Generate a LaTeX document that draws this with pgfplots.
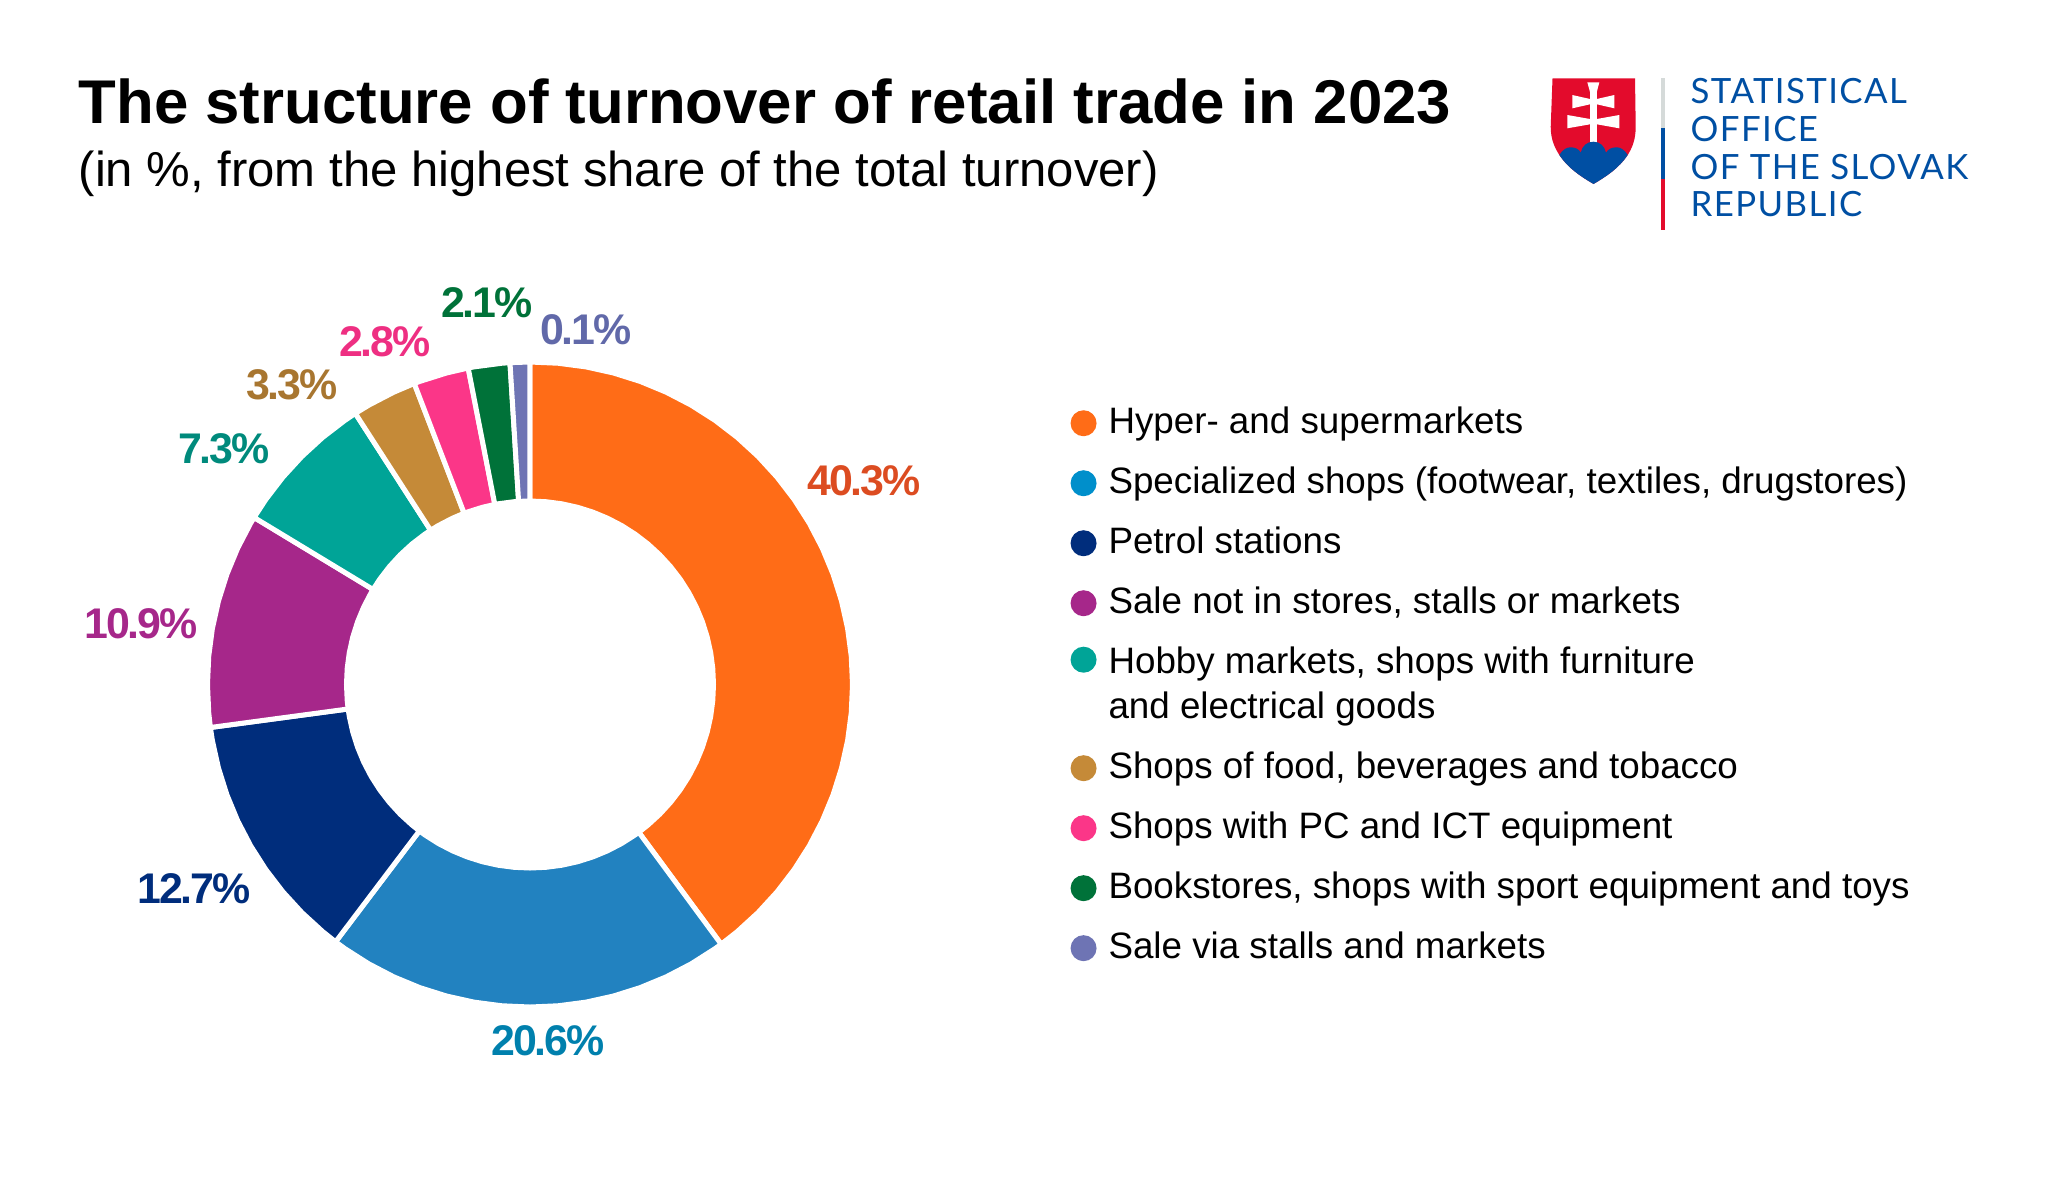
\documentclass[border=0pt]{standalone}
\usepackage{fontspec}
\setmainfont{Liberation Sans}
\newfontfamily\lab[LetterSpace=-4.5]{Liberation Sans}
\newfontfamily\logo[LetterSpace=4]{Lato}
\usepackage{pgfplots}
\pgfplotsset{compat=1.18}
\usepgfplotslibrary{polar}
% two-line legend entry: the marker goes up to its first line
\pgfplotsset{raised marker/.style={legend image code/.code={\fill[##1,draw=none] (0.13cm,0.27cm) circle (0.13cm);}}}

% wedge colours
\definecolor{cOrange}{HTML}{FF6C17}
\definecolor{cBlue}{HTML}{2282C0}
\definecolor{cNavy}{HTML}{002D7C}
\definecolor{cPurple}{HTML}{A6278A}
\definecolor{cTeal}{HTML}{00A497}
\definecolor{cBrown}{HTML}{C58A38}
\definecolor{cPink}{HTML}{FB3688}
\definecolor{cGreen}{HTML}{007239}
\definecolor{cLav}{HTML}{6E74B4}
\definecolor{mBlue}{HTML}{008FCB}
% label colours
\definecolor{tOrange}{HTML}{DC4C21}
\definecolor{tBlue}{HTML}{0080AD}
\definecolor{tTeal}{HTML}{008A7C}
\definecolor{tBrown}{HTML}{A87630}
\definecolor{tPink}{HTML}{EE2F82}
\definecolor{tLav}{HTML}{6169A9}
% logo colours
\definecolor{lRed}{HTML}{E30B2C}
\definecolor{lBlue}{HTML}{004FA3}
\definecolor{lGray}{HTML}{D5DAD9}

\newcommand{\val}[4]{\node[text=#3,font={\lab\bfseries\fontsize{12.2pt}{14pt}\selectfont},inner sep=0pt] at (#1,#2) {#4};}

\begin{document}
\begin{tikzpicture}[x=0.1mm,y=-0.1mm]
\path[use as bounding box] (0,0) rectangle (2048,1179);

\begin{polaraxis}[
    at={(5.30cm,-6.845cm)}, anchor=center,
    scale only axis, width=6.45cm, height=6.45cm,
    xmin=0, xmax=360, ymin=0, ymax=322.5,
    hide axis, clip=false,
    legend style={at={(axis description cs:1.337,0.9395)}, anchor=north west, draw=none, fill=none,
        font=\fontsize{10.46pt}{12.8pt}\selectfont, row sep=4.27pt, inner sep=0pt,
        nodes={inner sep=0pt, text depth={}},
        cells={anchor=base west},
        /tikz/every odd column/.append style={column sep=3.4pt}},
    legend cell align=left,
    legend image code/.code={\fill[#1,draw=none] (0.13cm,0.01cm) circle (0.13cm);},
]
% shares 40.3 20.6 12.7 10.9 7.3 3.3 2.8 2.1 and a drawn slice of 1.0, angles in degrees
\addplot[fill=cOrange, draw=white, line width=0.5mm] coordinates {
 (90,322.5)(85,322.5)(80,322.5)(75,322.5)(70,322.5)(65,322.5)(60,322.5)(55,322.5)(50,322.5)(45,322.5)
 (40,322.5)(35,322.5)(30,322.5)(25,322.5)(20,322.5)(15,322.5)(10,322.5)(5,322.5)(0,322.5)(-5,322.5)
 (-10,322.5)(-15,322.5)(-20,322.5)(-25,322.5)(-30,322.5)(-35,322.5)(-40,322.5)(-45,322.5)(-50,322.5)(-53.64,322.5)
 (-53.64,183.5)(-50,183.5)(-45,183.5)(-40,183.5)(-35,183.5)(-30,183.5)(-25,183.5)(-20,183.5)(-15,183.5)(-10,183.5)
 (-5,183.5)(0,183.5)(5,183.5)(10,183.5)(15,183.5)(20,183.5)(25,183.5)(30,183.5)(35,183.5)(40,183.5)
 (45,183.5)(50,183.5)(55,183.5)(60,183.5)(65,183.5)(70,183.5)(75,183.5)(80,183.5)(85,183.5)(90,183.5)
} -- cycle;
\addlegendentry{\strut Hyper- and supermarkets}

\addplot[fill=cBlue, draw=white, line width=0.5mm, legend image post style={fill=mBlue}] coordinates {
 (-53.64,322.5)(-55,322.5)(-60,322.5)(-65,322.5)(-70,322.5)(-75,322.5)(-80,322.5)(-85,322.5)(-90,322.5)
 (-95,322.5)(-100,322.5)(-105,322.5)(-110,322.5)(-115,322.5)(-120,322.5)(-125,322.5)(-127.07,322.5)
 (-127.07,183.5)(-125,183.5)(-120,183.5)(-115,183.5)(-110,183.5)(-105,183.5)(-100,183.5)(-95,183.5)
 (-90,183.5)(-85,183.5)(-80,183.5)(-75,183.5)(-70,183.5)(-65,183.5)(-60,183.5)(-55,183.5)(-53.64,183.5)
} -- cycle;
\addlegendentry{\strut Specialized shops (footwear, textiles, drugstores)}

\addplot[fill=cNavy, draw=white, line width=0.5mm] coordinates {
 (-127.07,322.5)(-130,322.5)(-135,322.5)(-140,322.5)(-145,322.5)(-150,322.5)(-155,322.5)(-160,322.5)(-165,322.5)(-170,322.5)(-172.34,322.5)
 (-172.34,183.5)(-170,183.5)(-165,183.5)(-160,183.5)(-155,183.5)(-150,183.5)(-145,183.5)(-140,183.5)(-135,183.5)(-130,183.5)(-127.07,183.5)
} -- cycle;
\addlegendentry{\strut Petrol stations}

\addplot[fill=cPurple, draw=white, line width=0.5mm] coordinates {
 (-172.34,322.5)(-175,322.5)(-180,322.5)(-185,322.5)(-190,322.5)(-195,322.5)(-200,322.5)(-205,322.5)(-210,322.5)(-211.19,322.5)
 (-211.19,183.5)(-210,183.5)(-205,183.5)(-200,183.5)(-195,183.5)(-190,183.5)(-185,183.5)(-180,183.5)(-175,183.5)(-172.34,183.5)
} -- cycle;
\addlegendentry{\strut Sale not in stores, stalls or markets}

\addplot[fill=cTeal, draw=white, line width=0.5mm, raised marker] coordinates {
 (-211.19,322.5)(-215,322.5)(-220,322.5)(-225,322.5)(-230,322.5)(-235,322.5)(-237.21,322.5)
 (-237.21,183.5)(-235,183.5)(-230,183.5)(-225,183.5)(-220,183.5)(-215,183.5)(-211.19,183.5)
} -- cycle;
\addlegendentry{\begin{tabular}[t]{@{}l@{}}Hobby markets, shops with furniture\\and electrical goods\end{tabular}}

\addplot[fill=cBrown, draw=white, line width=0.5mm] coordinates {
 (-237.21,322.5)(-240,322.5)(-245,322.5)(-248.97,322.5)
 (-248.97,183.5)(-245,183.5)(-240,183.5)(-237.21,183.5)
} -- cycle;
\addlegendentry{\strut Shops of food, beverages and tobacco}

\addplot[fill=cPink, draw=white, line width=0.5mm] coordinates {
 (-248.97,322.5)(-250,322.5)(-255,322.5)(-258.95,322.5)
 (-258.95,183.5)(-255,183.5)(-250,183.5)(-248.97,183.5)
} -- cycle;
\addlegendentry{\strut Shops with PC and ICT equipment}

\addplot[fill=cGreen, draw=white, line width=0.5mm] coordinates {
 (-258.95,322.5)(-260,322.5)(-265,322.5)(-266.44,322.5)
 (-266.44,183.5)(-265,183.5)(-260,183.5)(-258.95,183.5)
} -- cycle;
\addlegendentry{\strut Bookstores, shops with sport equipment and toys}

\addplot[fill=cLav, draw=white, line width=0.5mm] coordinates {
 (-266.44,322.5)(-270,322.5)
 (-270,183.5)(-266.44,183.5)
} -- cycle;
\addlegendentry{\strut Sale via stalls and markets}
\end{polaraxis}

% value labels
\val{864}{481}{tOrange}{40.3\%}
\val{548}{1041}{tBlue}{20.6\%}
\val{194}{889}{cNavy}{12.7\%}
\val{141}{624}{cPurple}{10.9\%}
\val{224}{449}{tTeal}{7.3\%}
\val{292}{385}{tBrown}{3.3\%}
\val{385}{342}{tPink}{2.8\%}
\val{487}{303}{cGreen}{2.1\%}
\val{586}{330}{tLav}{0.1\%}

% title
\node[anchor=base west,inner sep=0pt,font={\bfseries\fontsize{17.57pt}{20pt}\selectfont}] at (78,123) {The structure of turnover of retail trade in 2023};
\node[anchor=base west,inner sep=0pt,font={\fontsize{13.96pt}{17pt}\selectfont}] at (78,186) {(in \%, from the highest share of the total turnover)};

% logo
\fill[lRed] (1552.5,78.3) -- (1635,78.3) -- (1635.7,126.7) .. controls (1635.7,140) and (1632,148) .. (1627.7,155)
  .. controls (1619,168) and (1607,176) .. (1593.5,184) .. controls (1580,176) and (1568,168) .. (1559.3,155)
  .. controls (1555,148) and (1550.7,140) .. (1550.7,126.7) -- cycle;
\fill[white] (1587.3,82.3) -- (1599.3,82.3) -- (1596.8,92) -- (1596.8,99) -- (1614.3,95) -- (1614.3,108.3) -- (1596.8,104.3)
  -- (1596.8,119) -- (1619.3,115) -- (1619.3,128.3) -- (1596.8,124.3) -- (1596.8,143) -- (1590,143) -- (1590,124.3)
  -- (1567.3,128.3) -- (1567.3,115) -- (1590,119) -- (1590,104.3) -- (1572.3,108.3) -- (1572.3,95) -- (1590,99) -- (1590,92) -- cycle;
\fill[lBlue] (1559.3,155) .. controls (1563,149) and (1567,147.3) .. (1570.7,147.3) .. controls (1575,147.3) and (1579,149) .. (1580.7,152.7)
  .. controls (1582,146) and (1587,141.7) .. (1593.3,141.7) .. controls (1600,141.7) and (1604.5,146) .. (1606,152.7)
  .. controls (1608,149) and (1612,147.3) .. (1616.7,147.3) .. controls (1620,147.3) and (1624,149) .. (1627.7,155)
  .. controls (1619,168) and (1607,176) .. (1593.5,184) .. controls (1580,176) and (1568,168) .. (1559.3,155) -- cycle;
\fill[lGray] (1661.3,78.3) rectangle (1665.3,128.3);
\fill[lBlue] (1661.3,128.3) rectangle (1665.3,179.3);
\fill[lRed] (1661.3,179.3) rectangle (1665.3,230);
\begin{scope}[every node/.style={anchor=base west,inner sep=0pt,text=lBlue,font={\logo\fontsize{9.9pt}{12pt}\selectfont}}]
\node at (1690,103.3) {STATISTICAL};
\node at (1690,141) {OFFICE};
\node at (1690,179) {OF THE SLOVAK};
\node at (1690,216.7) {REPUBLIC};
\end{scope}
\end{tikzpicture}
\end{document}
